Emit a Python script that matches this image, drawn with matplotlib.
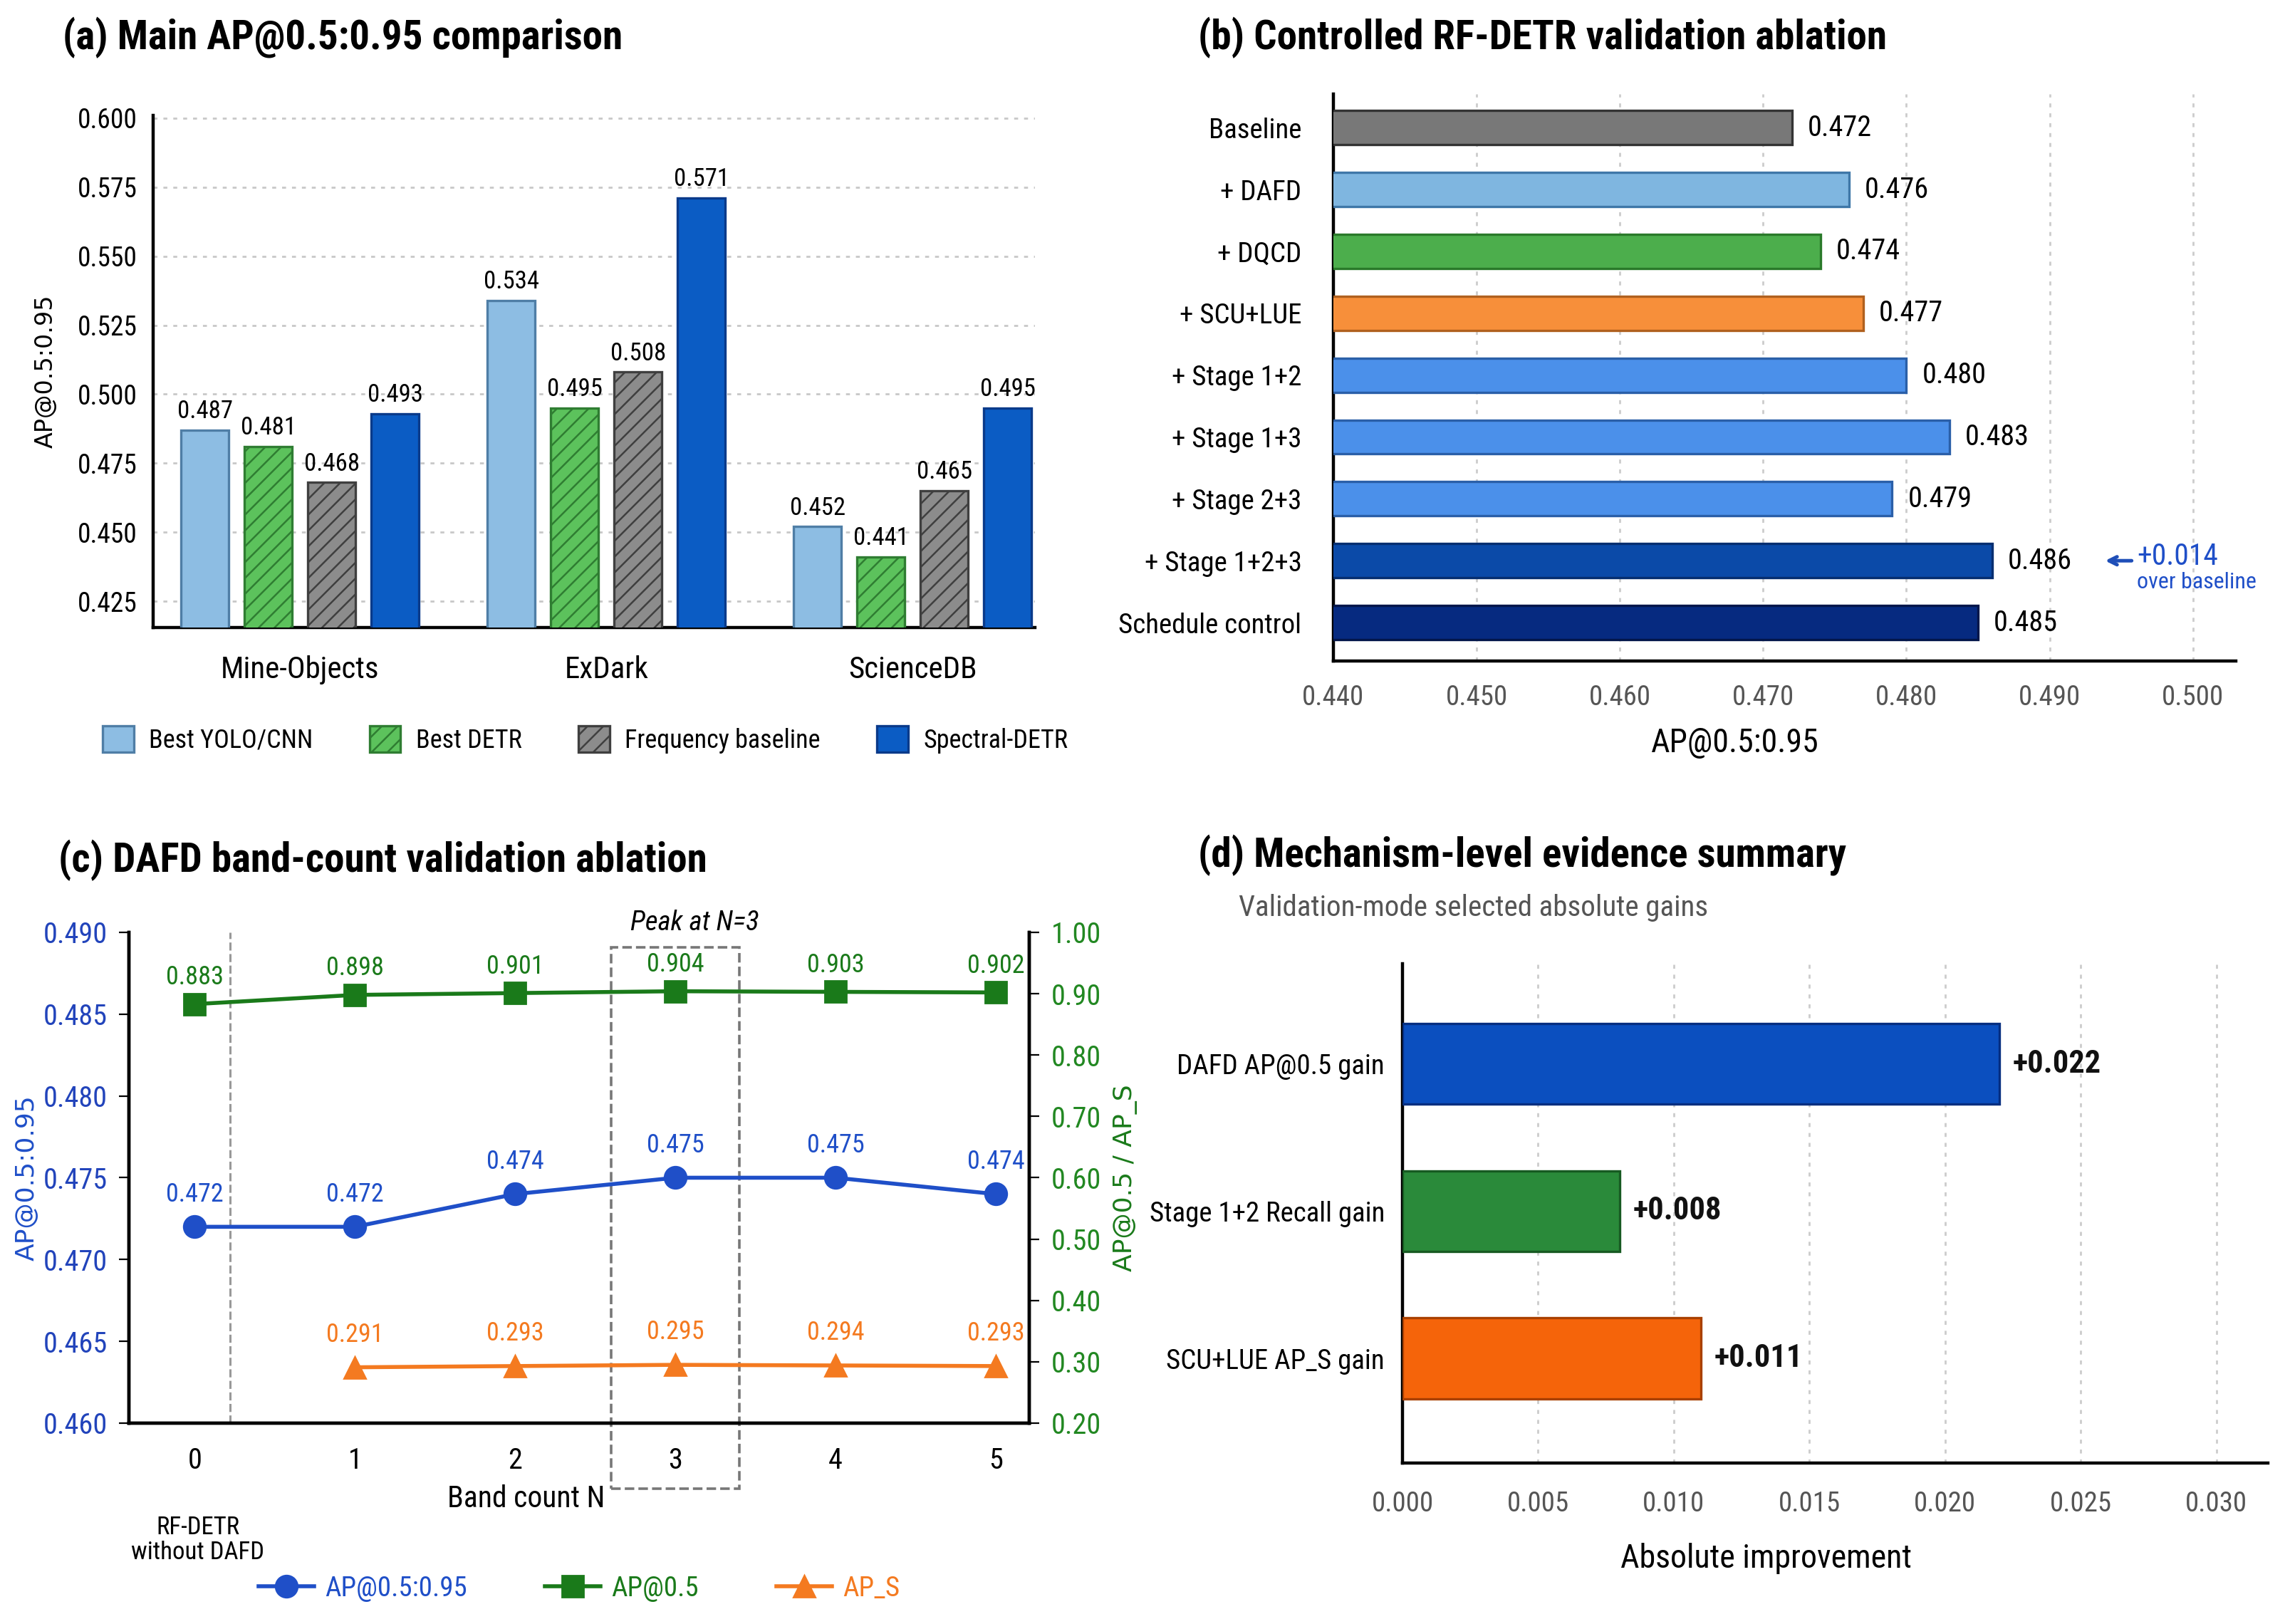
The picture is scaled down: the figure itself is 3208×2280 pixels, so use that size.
import numpy as np
import matplotlib
matplotlib.use('Agg')
import matplotlib.pyplot as plt
from matplotlib.patches import Rectangle, Patch
from matplotlib.ticker import FormatStrFormatter, MultipleLocator

plt.rcParams['font.family'] = ['Liberation Sans Narrow', 'Roboto Condensed', 'DejaVu Sans Condensed', 'Roboto', 'DejaVu Sans']
plt.rcParams['hatch.linewidth'] = 0.9
plt.rcParams['axes.linewidth'] = 1.6

# (a) main comparison
datasets = ['Mine-Objects', 'ExDark', 'ScienceDB']
best_yolo = [0.487, 0.534, 0.452]
best_detr = [0.481, 0.495, 0.441]
freq_base = [0.468, 0.508, 0.465]
spectral = [0.493, 0.571, 0.495]
methods = ['Best YOLO/CNN', 'Best DETR', 'Frequency baseline', 'Spectral-DETR']

# (b) controlled ablation
abl_names = ['Baseline', '+ DAFD', '+ DQCD', '+ SCU+LUE', '+ Stage 1+2',
             '+ Stage 1+3', '+ Stage 2+3', '+ Stage 1+2+3', 'Schedule control']
abl_ap = [0.472, 0.476, 0.474, 0.477, 0.480, 0.483, 0.479, 0.486, 0.485]

# (c) band count ablation
band_n = [0, 1, 2, 3, 4, 5]
band_ap = [0.472, 0.472, 0.474, 0.475, 0.475, 0.474]
band_ap50 = [0.883, 0.898, 0.901, 0.904, 0.903, 0.902]
band_n_s = [1, 2, 3, 4, 5]
band_aps = [0.291, 0.293, 0.295, 0.294, 0.293]

# (d) evidence summary
gain_names = ['DAFD AP@0.5 gain', 'Stage 1+2 Recall gain', 'SCU+LUE AP_S gain']
gain_vals = [0.022, 0.008, 0.011]

fig = plt.figure(figsize=(16.04, 11.4), dpi=200)

# ---------------- (a)
ax1 = fig.add_axes([0.067, 0.6136, 0.386, 0.3154])
x = np.arange(len(datasets))
step = 0.207
w = 0.155
styles = [
    dict(color='#8dbde3', edgecolor='#4f7ea6', hatch=None),
    dict(color='#5cc25c', edgecolor='#2f7d32', hatch='///'),
    dict(color='#8c8c8c', edgecolor='#3f3f3f', hatch='///'),
    dict(color='#0b5cc4', edgecolor='#0a3a8a', hatch=None),
]
series = [best_yolo, best_detr, freq_base, spectral]
for k, (vals, st) in enumerate(zip(series, styles)):
    pos = x + (k - 1.5) * step
    ax1.bar(pos, vals, w, color=st['color'], edgecolor=st['edgecolor'],
            hatch=st['hatch'], linewidth=1.2, zorder=3, label=methods[k])
    for p, v in zip(pos, vals):
        ax1.text(p, v + 0.0025, f'{v:.3f}', ha='center', va='bottom', fontsize=12.5)
ax1.set_xlim(-0.48, 2.40)
ax1.set_ylim(0.4155, 0.601)
ax1.yaxis.set_major_locator(MultipleLocator(0.025))
ax1.yaxis.set_major_formatter(FormatStrFormatter('%.3f'))
ax1.set_xticks(x, datasets)
ax1.tick_params(axis='x', length=0, labelsize=15.5, pad=14)
ax1.tick_params(axis='y', length=0, labelsize=13.5, pad=8)
ax1.grid(axis='y', color='#c8c8c8', linestyle=(0, (2, 3)), linewidth=1, zorder=0)
ax1.spines['top'].set_visible(False)
ax1.spines['right'].set_visible(False)
ax1.set_ylabel('AP@0.5:0.95', family='DejaVu Sans', fontsize=12, labelpad=10)
handles = [Patch(facecolor=st['color'], edgecolor=st['edgecolor'], hatch=st['hatch'], linewidth=1.2)
           for st in styles]
ax1.legend(handles, methods, loc='center', bbox_to_anchor=(0.49, -0.219), ncol=4,
           frameon=False, fontsize=13, handlelength=1.2, handleheight=1.2,
           columnspacing=2.2, handletextpad=0.6)

# ---------------- (b)
ax2 = fig.add_axes([0.5835, 0.593, 0.395, 0.349])
abl_colors = ['#787878', '#7fb6e0', '#4cae4c', '#f78f3a', '#4b90ea',
              '#4b90ea', '#4b90ea', '#0b4aa8', '#062a80']
abl_edges = ['#333333', '#3f77a8', '#2a7a2a', '#b0601e', '#2a5fa8',
             '#2a5fa8', '#2a5fa8', '#062e70', '#03164a']
yb = np.arange(len(abl_names))
ax2.barh(yb, abl_ap, height=0.55, color=abl_colors, edgecolor=abl_edges,
         linewidth=1.2, zorder=3)
for yy, v in zip(yb, abl_ap):
    ax2.text(v + 0.0011, yy, f'{v:.3f}', ha='left', va='center', fontsize=14.5)
ax2.set_xlim(0.44, 0.503)
ax2.set_ylim(8.62, -0.54)
ax2.xaxis.set_major_locator(MultipleLocator(0.01))
ax2.xaxis.set_major_formatter(FormatStrFormatter('%.3f'))
ax2.set_yticks(yb, abl_names)
ax2.tick_params(axis='y', length=0, labelsize=14, pad=16)
ax2.tick_params(axis='x', length=0, labelsize=14, pad=12, labelcolor='#555555')
ax2.grid(axis='x', color='#cccccc', linestyle=(0, (2, 3)), linewidth=1, zorder=0)
ax2.spines['top'].set_visible(False)
ax2.spines['right'].set_visible(False)
ax2.set_xlabel('AP@0.5:0.95', fontsize=16.5)
ax2.xaxis.set_label_coords(0.445, -0.117)
best = abl_ap[7]
gain = best - abl_ap[0]
ax2.annotate('', xy=(best + 0.0076, 7.0), xytext=(best + 0.0100, 7.0),
             arrowprops=dict(arrowstyle='->', color='#1f4fb8', lw=1.8), annotation_clip=False)
ax2.text(best + 0.0101, 6.93, f'+{gain:.3f}', ha='left', va='center', fontsize=15,
         color='#1f4fc8', clip_on=False)
ax2.text(best + 0.0101, 7.35, 'over baseline', ha='left', va='center', fontsize=11.5,
         color='#1f4fc8', clip_on=False)

# ---------------- (c)
ax3 = fig.add_axes([0.0565, 0.1237, 0.394, 0.3022])
ax3r = ax3.twinx()
c_blue = '#1f4fc8'
c_green = '#1a7a1a'
c_orange = '#f47a20'
l1, = ax3.plot(band_n, band_ap, '-o', color=c_blue, lw=2, ms=11, zorder=4)
l2, = ax3r.plot(band_n, band_ap50, '-s', color=c_green, lw=2, ms=10.5, zorder=4)
l3, = ax3r.plot(band_n_s, band_aps, '-^', color=c_orange, lw=2, ms=11, zorder=4)
for xx, v in zip(band_n, band_ap):
    ax3.annotate(f'{v:.3f}', (xx, v), xytext=(0, 10), textcoords='offset points',
                 ha='center', va='bottom', fontsize=13, color=c_blue)
for xx, v in zip(band_n, band_ap50):
    ax3r.annotate(f'{v:.3f}', (xx, v), xytext=(0, 7), textcoords='offset points',
                  ha='center', va='bottom', fontsize=13, color=c_green)
for xx, v in zip(band_n_s, band_aps):
    ax3r.annotate(f'{v:.3f}', (xx, v), xytext=(0, 10), textcoords='offset points',
                  ha='center', va='bottom', fontsize=13, color=c_orange)
ax3.set_xlim(-0.41, 5.21)
ax3.set_ylim(0.460, 0.490)
ax3r.set_ylim(0.20, 1.00)
ax3.yaxis.set_major_locator(MultipleLocator(0.005))
ax3.yaxis.set_major_formatter(FormatStrFormatter('%.3f'))
ax3r.yaxis.set_major_locator(MultipleLocator(0.1))
ax3r.yaxis.set_major_formatter(FormatStrFormatter('%.2f'))
ax3.set_xticks(band_n, [str(n) for n in band_n])
ax3.tick_params(axis='x', length=0, labelsize=14.5, pad=12)
ax3.tick_params(axis='y', length=5, labelsize=14.5, labelcolor='#2244bb', pad=6)
ax3r.tick_params(axis='y', length=5, labelsize=14.5, labelcolor='#228822', pad=6)
ax3.spines['top'].set_visible(False)
ax3r.spines['top'].set_visible(False)
ax3.axvline(0.22, color='#999999', ls='--', lw=1.1, zorder=1)
ax3.add_patch(Rectangle((2.6, 0.456), 0.8, 0.0331, fill=False, ls='--', ec='#777777',
                        lw=1.3, clip_on=False, zorder=2))
ax3.text(3.12, 0.4906, 'Peak at N=3', ha='center', va='center', fontsize=14,
         style='italic', clip_on=False)
ax3.set_ylabel('AP@0.5:0.95', family='DejaVu Sans', fontsize=13, color=c_blue, labelpad=2)
ax3r.set_ylabel('AP@0.5 / AP_S', family='DejaVu Sans', fontsize=13, color=c_green, labelpad=6)
ax3.set_xlabel('Band count N', fontsize=15)
ax3.xaxis.set_label_coords(0.441, -0.125)
ax3.text(0.02, -0.238, 'RF-DETR\nwithout DAFD', transform=ax3.get_xaxis_transform(),
         ha='center', va='center', fontsize=12.5, linespacing=1.1)
leg = ax3.legend([l1, l2, l3], ['AP@0.5:0.95', 'AP@0.5', 'AP_S'], loc='center',
                 bbox_to_anchor=(0.5, -0.337), ncol=3, frameon=False, fontsize=14,
                 handlelength=2.0, columnspacing=2.8, handletextpad=0.4)
for t, c in zip(leg.get_texts(), [c_blue, c_green, c_orange]):
    t.set_color(c)

# ---------------- (d)
ax4 = fig.add_axes([0.6138, 0.0991, 0.3787, 0.3075])
gain_colors = ['#0b4fbf', '#2a8a3a', '#f5640a']
gain_edges = ['#062e80', '#175a22', '#a84000']
yd = np.arange(len(gain_names))
ax4.barh(yd, gain_vals, height=0.55, color=gain_colors, edgecolor=gain_edges,
         linewidth=1.2, zorder=3)
for yy, v in zip(yd, gain_vals):
    ax4.text(v + 0.0005, yy, f'+{v:.3f}', ha='left', va='center', fontsize=16,
             fontweight='semibold', color='#111111')
ax4.set_xlim(0, 0.0319)
ax4.set_ylim(2.71, -0.68)
ax4.xaxis.set_major_locator(MultipleLocator(0.005))
ax4.xaxis.set_major_formatter(FormatStrFormatter('%.3f'))
ax4.set_yticks(yd, gain_names)
ax4.tick_params(axis='y', length=0, labelsize=14, pad=9)
ax4.tick_params(axis='x', length=0, labelsize=14, pad=14, labelcolor='#555555')
ax4.grid(axis='x', color='#cccccc', linestyle=(0, (2, 3)), linewidth=1, zorder=0)
ax4.spines['top'].set_visible(False)
ax4.spines['right'].set_visible(False)
ax4.set_xlabel('Absolute improvement', fontsize=16.5)
ax4.xaxis.set_label_coords(0.42, -0.16)

# titles
fig.text(0.0274, 0.9768, '(a) Main AP@0.5:0.95 comparison', fontsize=20.5, fontweight='bold', va='center')
fig.text(0.5243, 0.9768, '(b) Controlled RF-DETR validation ablation', fontsize=20.5, fontweight='bold', va='center')
fig.text(0.0256, 0.4702, '(c) DAFD band-count validation ablation', fontsize=20.5, fontweight='bold', va='center')
fig.text(0.5243, 0.4732, '(d) Mechanism-level evidence summary', fontsize=20.5, fontweight='bold', va='center')
fig.text(0.542, 0.4408, 'Validation-mode selected absolute gains', fontsize=14.8, color='#555555', va='center')

fig.savefig('out.png', dpi=200)
